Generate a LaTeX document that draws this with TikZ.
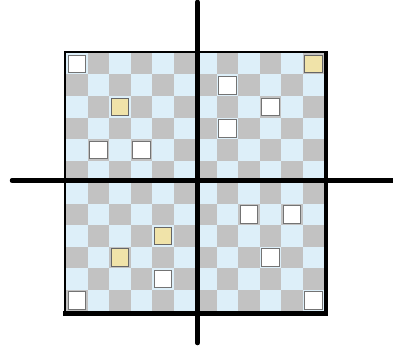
\documentclass[tikz,border=0pt]{standalone}
\definecolor{cellblue}{HTML}{DDEFF9}
\definecolor{cellgray}{HTML}{C2C2C2}
\definecolor{tokyel}{HTML}{F0E3A9}
\tikzset{
  whitetok/.style={fill=white,draw=black!55,line width=0.9pt},
  yeltok/.style={fill=tokyel,draw=black!60,line width=0.9pt},
  axisline/.style={line width=4.5pt,line cap=round},
  thinedge/.style={line width=2pt},
  thickedge/.style={line width=4.8pt},
}
\begin{document}
\begin{tikzpicture}[x=1pt,y=-1pt]
\useasboundingbox (0,0) rectangle (393,350);
% checkerboard
\foreach \r in {0,...,11}{
  \foreach \c in {0,...,11}{
    \pgfmathtruncatemacro\pp{\r+\c}
    \ifodd\pp \def\cc{cellgray}\else\def\cc{cellblue}\fi
    \fill[\cc] (66+\c*21.5, 53+\r*21.5) rectangle ++(21.5,21.5);
  }
}
% tokens
\foreach \r/\c in {0/0,4/1,4/3,1/7,2/9,3/7,10/4,11/0,7/8,7/10,9/9,11/11}{
  \draw[whitetok] (68+\c*21.5, 55+\r*21.5) rectangle ++(17.5,17.5);
}
\foreach \r/\c in {2/2,0/11,8/4,9/2}{
  \draw[yeltok] (68+\c*21.5, 55+\r*21.5) rectangle ++(17.5,17.5);
}
% board frame
\coordinate (tl) at (65,52);
\coordinate (tr) at (326,52);
\coordinate (bl) at (65,313.5);
\coordinate (br) at (326,313.5);
\draw[thinedge] (64,52) -- (tr);
\draw[thinedge] (tl) -- (bl);
\draw[line width=4.5pt] (326,51) -- (326,316);
\draw[thickedge] (63,313.5) -- (328.2,313.5);
% axes
\coordinate (vtop) at (197.5,2);
\coordinate (vbot) at (197.5,343);
\coordinate (hl) at (12,180.5);
\coordinate (hr) at (393,180.5);
\draw[axisline] (vtop) -- (vbot);
\draw[axisline] (hl) -- (hr);
\end{tikzpicture}
\end{document}
